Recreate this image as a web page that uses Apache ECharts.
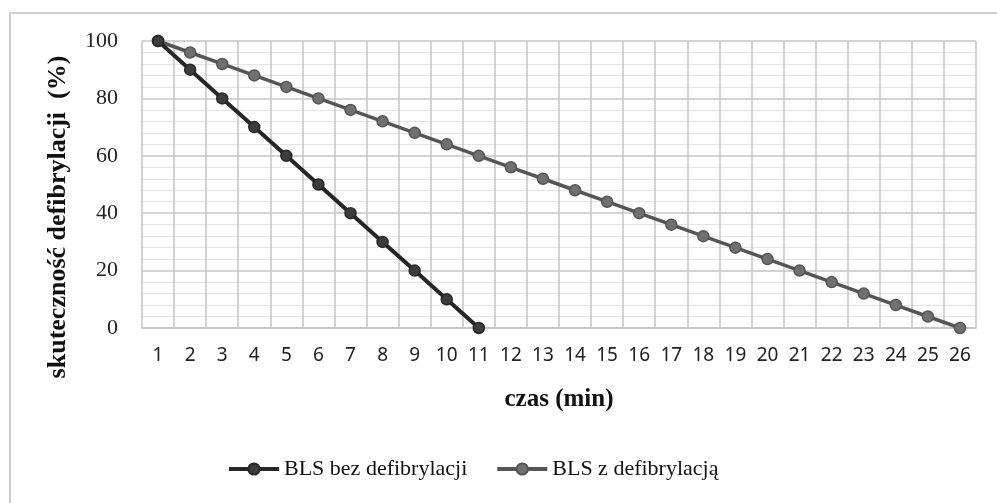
<!DOCTYPE html>
<html>
<head>
<meta charset="utf-8">
<script src="https://cdn.jsdelivr.net/npm/echarts@6/dist/echarts.min.js"></script>
<style>html,body{margin:0;padding:0;background:#fff}#c{width:997px;height:503px}</style>
</head>
<body>
<div id="c"></div>
<script>
const categories = ['1','2','3','4','5','6','7','8','9','10','11','12','13','14','15','16','17','18','19','20','21','22','23','24','25','26'];
const bezDefibrylacji = [100,90,80,70,60,50,40,30,20,10,0];
const zDefibrylacja = [100,96,92,88,84,80,76,72,68,64,60,56,52,48,44,40,36,32,28,24,20,16,12,8,4,0];
const seriesNames = ['BLS bez defibrylacji','BLS z defibrylacją'];

const chart = echarts.init(document.getElementById('c'), null, {renderer:'canvas'});
chart.setOption({
  backgroundColor:'#fff',
  animation:false,
  graphic:[
    {type:'rect', shape:{x:10,y:13,width:1000,height:500}, style:{fill:'none', stroke:'#cfcfcf', lineWidth:2}, z:-1},
    {type:'text', x:58, y:217, rotation:Math.PI/2, style:{text:'skuteczność defibrylacji  (%)', font:'bold 26px "Liberation Serif"', fill:'#111', align:'center', verticalAlign:'middle'}}
  ],
  grid:{left:142, right:21, top:41, bottom:175},
  legend:{
    left:222, top:453, itemWidth:50, itemHeight:14, itemGap:28,
    textStyle:{fontFamily:'Liberation Serif', fontSize:22, color:'#111'},
    lineStyle:{width:4},
    data:seriesNames
  },
  xAxis:{
    type:'category', data:categories, boundaryGap:true,
    name:'czas (min)', nameLocation:'middle', nameGap:59,
    nameTextStyle:{fontFamily:'Liberation Serif', fontWeight:'bold', fontSize:25, color:'#111'},
    axisLine:{show:true, lineStyle:{color:'#c4c4c4', width:1.5}},
    axisTick:{show:false},
    axisLabel:{fontFamily:'Noto Sans', fontSize:19, color:'#222', margin:18},
    splitLine:{show:true, lineStyle:{color:'#c4c4c4', width:1.5}}
  },
  yAxis:{
    type:'value', min:0, max:100, interval:20,
    axisLine:{show:false}, axisTick:{show:false},
    axisLabel:{fontFamily:'Liberation Serif', fontSize:22, color:'#222', margin:24},
    splitLine:{show:true, lineStyle:{color:'#c4c4c4', width:1.5}},
    minorTick:{show:false, splitNumber:5},
    minorSplitLine:{show:true, lineStyle:{color:'#e4e4e4', width:1}}
  },
  series:[
    {name:seriesNames[0], type:'line', data:bezDefibrylacji, symbol:'circle', symbolSize:11,
     lineStyle:{color:'#262626', width:4}, itemStyle:{color:'#3c3c3c', borderColor:'#262626', borderWidth:1.5}, z:3},
    {name:seriesNames[1], type:'line', data:zDefibrylacja, symbol:'circle', symbolSize:11,
     lineStyle:{color:'#555555', width:3.5}, itemStyle:{color:'#707070', borderColor:'#555555', borderWidth:1.5}, z:2}
  ]
});
</script>
</body>
</html>
